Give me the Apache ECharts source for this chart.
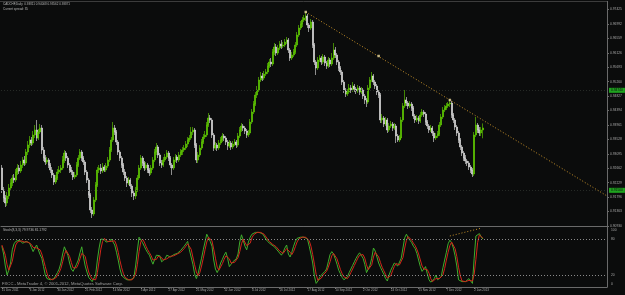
<!DOCTYPE html>
<html>
<head>
<meta charset="utf-8">
<script src="https://cdn.jsdelivr.net/npm/echarts@6/dist/echarts.min.js"></script>
<style>
html,body{margin:0;padding:0;background:#0b0c0c;}
#chart{width:625px;height:295px;}
</style>
</head>
<body>
<div id="chart"></div>
<script>
// CADCHF daily
const firstOpen = 0.9267;
const closes = [
  0.9201,0.9177,0.9162,0.9183,0.9207,0.9222,0.9237,0.9231,0.9255,0.9267,
  0.9258,0.9276,0.9291,0.9282,0.9315,0.9336,0.9351,0.9342,0.9366,0.9381,
  0.9357,0.9375,0.9387,0.9321,0.9297,0.9285,0.9291,0.9276,0.9261,0.9246,
  0.9225,0.9237,0.9255,0.9261,0.9267,0.9291,0.9312,0.9297,0.9276,0.9261,
  0.9255,0.9240,0.9246,0.9276,0.9297,0.9315,0.9297,0.9285,0.9255,0.9231,
  0.9186,0.9141,0.9129,0.9171,0.9216,0.9261,0.9267,0.9258,0.9270,0.9261,
  0.9273,0.9291,0.9321,0.9351,0.9387,0.9375,0.9345,0.9315,0.9297,0.9276,
  0.9255,0.9237,0.9222,0.9231,0.9213,0.9192,0.9183,0.9201,0.9237,0.9267,
  0.9297,0.9282,0.9267,0.9276,0.9261,0.9252,0.9267,0.9291,0.9315,0.9330,
  0.9306,0.9282,0.9276,0.9291,0.9300,0.9312,0.9297,0.9276,0.9267,0.9291,
  0.9300,0.9291,0.9306,0.9315,0.9321,0.9327,0.9339,0.9351,0.9357,0.9375,
  0.9381,0.9336,0.9291,0.9306,0.9327,0.9345,0.9360,0.9366,0.9396,0.9417,
  0.9411,0.9366,0.9327,0.9336,0.9327,0.9342,0.9351,0.9363,0.9357,0.9345,
  0.9333,0.9342,0.9330,0.9339,0.9345,0.9336,0.9363,0.9381,0.9393,0.9387,
  0.9378,0.9366,0.9372,0.9405,0.9435,0.9459,0.9486,0.9501,0.9531,0.9543,
  0.9537,0.9549,0.9555,0.9573,0.9585,0.9579,0.9615,0.9630,0.9612,0.9627,
  0.9639,0.9633,0.9636,0.9645,0.9651,0.9621,0.9597,0.9606,0.9615,0.9636,
  0.9666,0.9687,0.9699,0.9711,0.9717,0.9723,0.9696,0.9687,0.9705,0.9636,
  0.9585,0.9567,0.9591,0.9597,0.9585,0.9600,0.9582,0.9573,0.9591,0.9579,
  0.9597,0.9621,0.9606,0.9585,0.9567,0.9555,0.9525,0.9501,0.9489,0.9495,
  0.9507,0.9501,0.9513,0.9504,0.9498,0.9507,0.9495,0.9501,0.9483,0.9471,
  0.9465,0.9507,0.9531,0.9543,0.9525,0.9513,0.9495,0.9486,0.9411,0.9417,
  0.9399,0.9411,0.9381,0.9393,0.9399,0.9387,0.9393,0.9363,0.9351,0.9357,
  0.9411,0.9453,0.9471,0.9462,0.9453,0.9459,0.9447,0.9423,0.9411,0.9417,
  0.9408,0.9426,0.9435,0.9429,0.9405,0.9393,0.9381,0.9387,0.9372,0.9357,
  0.9363,0.9369,0.9396,0.9420,0.9441,0.9447,0.9453,0.9459,0.9462,0.9426,
  0.9411,0.9390,0.9372,0.9351,0.9330,0.9312,0.9297,0.9288,0.9282,0.9270,
  0.9261,0.9249,0.9366,0.9396,0.9381,0.9372,0.93811,0.93871
];
const highs = [
  0.9276,0.9210,0.9186,0.9195,0.9219,0.9234,0.9246,0.9249,0.9264,0.9279,
  0.9276,0.9288,0.9300,0.9303,0.9324,0.9348,0.9363,0.9360,0.9378,0.9396,
  0.9411,0.9384,0.9399,0.9396,0.9330,0.9306,0.9300,0.9297,0.9282,0.9270,
  0.9252,0.9246,0.9264,0.9273,0.9276,0.9303,0.9321,0.9318,0.9303,0.9282,
  0.9270,0.9261,0.9255,0.9285,0.9306,0.9324,0.9321,0.9303,0.9291,0.9261,
  0.9237,0.9192,0.9150,0.9180,0.9225,0.9270,0.9276,0.9279,0.9282,0.9276,
  0.9282,0.9300,0.9330,0.9360,0.9405,0.9396,0.9381,0.9351,0.9321,0.9303,
  0.9282,0.9264,0.9243,0.9240,0.9237,0.9219,0.9201,0.9210,0.9246,0.9276,
  0.9306,0.9303,0.9288,0.9285,0.9282,0.9267,0.9276,0.9300,0.9324,0.9342,
  0.9336,0.9312,0.9291,0.9300,0.9309,0.9321,0.9318,0.9303,0.9282,0.9300,
  0.9309,0.9306,0.9315,0.9324,0.9330,0.9336,0.9348,0.9360,0.9366,0.9390,
  0.9390,0.9387,0.9342,0.9315,0.9336,0.9354,0.9369,0.9378,0.9405,0.9432,
  0.9426,0.9417,0.9372,0.9345,0.9342,0.9351,0.9360,0.9372,0.9369,0.9363,
  0.9351,0.9351,0.9348,0.9348,0.9354,0.9351,0.9372,0.9390,0.9402,0.9399,
  0.9393,0.9384,0.9381,0.9414,0.9444,0.9468,0.9495,0.9513,0.9540,0.9555,
  0.9552,0.9558,0.9564,0.9582,0.9594,0.9597,0.9624,0.9642,0.9639,0.9636,
  0.9648,0.9651,0.9645,0.9654,0.9660,0.9657,0.9627,0.9615,0.9624,0.9645,
  0.9675,0.9696,0.9708,0.9720,0.9726,0.9735,0.9729,0.9702,0.9714,0.9711,
  0.9642,0.9591,0.9600,0.9606,0.9603,0.9609,0.9606,0.9588,0.9600,0.9597,
  0.9612,0.9642,0.9630,0.9612,0.9591,0.9573,0.9561,0.9531,0.9507,0.9504,
  0.9519,0.9516,0.9525,0.9519,0.9510,0.9516,0.9513,0.9510,0.9507,0.9489,
  0.9477,0.9516,0.9540,0.9555,0.9549,0.9531,0.9519,0.9501,0.9492,0.9429,
  0.9423,0.9420,0.9417,0.9402,0.9408,0.9405,0.9402,0.9399,0.9369,0.9366,
  0.9420,0.9462,0.9501,0.9480,0.9468,0.9468,0.9465,0.9453,0.9429,0.9426,
  0.9423,0.9435,0.9444,0.9441,0.9435,0.9411,0.9399,0.9396,0.9393,0.9378,
  0.9372,0.9378,0.9405,0.9429,0.9450,0.9456,0.9462,0.9465,0.9471,0.9468,
  0.9432,0.9417,0.9396,0.9378,0.9357,0.9336,0.9318,0.9306,0.9294,0.9288,
  0.9276,0.9267,0.9375,0.9420,0.9402,0.9390,0.9390,0.94008
];
const lows = [
  0.9192,0.9165,0.9150,0.9153,0.9174,0.9198,0.9213,0.9222,0.9225,0.9246,
  0.9249,0.9252,0.9267,0.9273,0.9276,0.9306,0.9327,0.9333,0.9336,0.9357,
  0.9348,0.9351,0.9369,0.9309,0.9288,0.9276,0.9279,0.9267,0.9252,0.9237,
  0.9216,0.9219,0.9231,0.9249,0.9252,0.9261,0.9282,0.9288,0.9267,0.9252,
  0.9246,0.9231,0.9234,0.9240,0.9270,0.9291,0.9288,0.9276,0.9246,0.9222,
  0.9177,0.9132,0.9117,0.9123,0.9165,0.9210,0.9252,0.9249,0.9252,0.9255,
  0.9255,0.9267,0.9285,0.9315,0.9345,0.9366,0.9336,0.9306,0.9288,0.9267,
  0.9246,0.9228,0.9210,0.9216,0.9204,0.9180,0.9171,0.9174,0.9195,0.9231,
  0.9261,0.9273,0.9258,0.9261,0.9252,0.9243,0.9246,0.9261,0.9285,0.9306,
  0.9297,0.9273,0.9267,0.9270,0.9285,0.9294,0.9288,0.9267,0.9246,0.9261,
  0.9285,0.9282,0.9285,0.9300,0.9306,0.9315,0.9321,0.9330,0.9345,0.9351,
  0.9366,0.9327,0.9282,0.9282,0.9300,0.9321,0.9339,0.9354,0.9360,0.9390,
  0.9402,0.9357,0.9318,0.9321,0.9318,0.9321,0.9336,0.9345,0.9348,0.9336,
  0.9321,0.9327,0.9321,0.9324,0.9333,0.9327,0.9330,0.9357,0.9375,0.9378,
  0.9369,0.9357,0.9360,0.9366,0.9399,0.9429,0.9453,0.9477,0.9495,0.9525,
  0.9528,0.9531,0.9543,0.9549,0.9567,0.9570,0.9573,0.9606,0.9603,0.9606,
  0.9621,0.9624,0.9627,0.9630,0.9639,0.9612,0.9588,0.9591,0.9600,0.9609,
  0.9630,0.9660,0.9681,0.9690,0.9705,0.9708,0.9687,0.9675,0.9681,0.9627,
  0.9576,0.9546,0.9561,0.9585,0.9576,0.9579,0.9573,0.9564,0.9567,0.9570,
  0.9573,0.9591,0.9597,0.9576,0.9558,0.9546,0.9516,0.9492,0.9480,0.9483,
  0.9489,0.9492,0.9495,0.9495,0.9489,0.9492,0.9486,0.9489,0.9474,0.9459,
  0.9450,0.9459,0.9501,0.9525,0.9516,0.9504,0.9486,0.9477,0.9402,0.9402,
  0.9390,0.9393,0.9372,0.9375,0.9387,0.9378,0.9381,0.9342,0.9345,0.9345,
  0.9351,0.9405,0.9447,0.9453,0.9444,0.9447,0.9438,0.9414,0.9402,0.9405,
  0.9399,0.9402,0.9420,0.9420,0.9396,0.9384,0.9372,0.9375,0.9363,0.9345,
  0.9351,0.9357,0.9363,0.9390,0.9414,0.9435,0.9441,0.9447,0.9450,0.9417,
  0.9402,0.9381,0.9363,0.9342,0.9321,0.9303,0.9288,0.9279,0.9273,0.9261,
  0.9252,0.9240,0.9243,0.9360,0.9372,0.9363,0.9363,0.93562
];

// Stochastic(8,3,3): main and signal line
const stochMain = [
  68,55,35,20,28,40,62,72,76,78, 78,76,73,75,76,74,73,66,59,65,
  70,62,54,48,34,20,14,12,12,13, 14,17,24,30,40,55,67,60,53,40,
  30,26,32,38,45,57,67,50,35,25, 16,13,9,7,20,45,65,80,83,79,
  75,73,76,80,81,70,58,45,30,20, 16,13,12,11,12,12,15,35,60,83,
  82,74,68,62,57,53,45,38,46,53, 54,52,42,40,47,53,51,50,53,54,
  55,56,58,61,64,68,72,76,62,50, 38,22,14,22,35,48,62,75,88,86,
  76,68,45,30,24,30,40,46,53,58, 48,34,38,42,44,47,55,75,87,78,
  68,62,75,83,88,90,91,92,91,90, 89,85,80,76,73,71,69,67,64,60,
  57,53,58,65,70,55,50,58,68,76, 81,82,83,84,83,82,80,68,55,40,
  18,6,10,16,20,23,26,30,42,54, 59,55,47,38,28,22,16,12,14,17,
  24,30,36,42,48,53,57,58,48,38, 24,26,36,48,65,60,50,40,33,27,
  21,14,10,20,28,34,40,42,35,33, 48,65,82,88,82,78,74,68,64,56,
  45,34,26,30,34,22,12,8,7,14, 20,12,10,17,32,45,58,72,78,74,
  65,52,35,12,9,9,9,9,11,14, 10,6,48,85,88,89,84,79.9736
];
const stochSignal = [
  70,62,53,37,28,29,43,58,70,75, 77,77,76,75,75,75,74,71,66,63,
  65,66,62,55,45,34,23,15,13,12, 13,15,18,24,31,42,54,61,60,51,
  41,32,29,32,38,47,56,58,51,37, 25,18,13,10,12,24,43,63,76,81,
  79,76,75,76,79,77,70,58,44,32, 22,16,14,12,12,12,13,21,37,59,
  75,80,75,68,62,57,52,45,43,46, 51,53,49,45,43,47,50,51,51,52,
  54,55,56,58,61,64,68,72,70,63, 50,37,25,19,24,35,48,62,75,83,
  83,77,63,48,33,28,31,39,46,52, 53,47,40,38,41,44,49,59,72,80,
  78,69,68,73,82,87,90,91,91,91, 90,88,85,80,76,73,71,69,67,64,
  60,57,56,59,64,63,58,54,59,67, 75,80,82,83,83,83,82,77,68,54,
  38,21,11,11,15,20,23,26,33,42, 52,56,54,47,38,29,22,17,14,14,
  18,24,30,36,42,48,53,56,54,48, 37,29,29,37,50,58,58,50,41,33,
  27,21,15,15,19,27,34,39,39,37, 39,49,65,78,84,83,78,73,69,63,
  55,45,35,30,30,29,23,14,9,10, 14,15,14,13,20,31,45,58,69,75,
  72,64,51,33,19,10,9,9,10,11, 12,10,21,46,74,87,87,81.1792
];

const dateLabels = ['15 Dec 2011','6 Jan 2012','30 Jan 2012','21 Feb 2012','14 Mar 2012','5 Apr 2012',
  '27 Apr 2012','21 May 2012','12 Jun 2012','4 Jul 2012','26 Jul 2012','17 Aug 2012','10 Sep 2012',
  '2 Oct 2012','24 Oct 2012','15 Nov 2012','7 Dec 2012','2 Jan 2013'];
const dateStep = 16;          // bars between date labels
const slotCount = 349;        // bars + empty chart shift on the right

// user drawn objects
const trendIdx = [175, 258];
const trendVal = [0.9735, 0.9471];
const levelLines = [0.9474, 0.9150];
const bidPrice = 0.93871;
const stochTrendIdx = [258, 276];
const stochTrendVal = [85, 98];
const stochLevels = [80, 20];

const cats = Array.from({ length: slotCount }, (_, i) => String(i));
const candles = closes.map((c, i) => [i === 0 ? firstOpen : closes[i - 1], c, lows[i], highs[i]]);

const slope = (trendVal[1] - trendVal[0]) / (trendIdx[1] - trendIdx[0]);
const lastSlot = slotCount - 1;
const trendData = [[trendIdx[0], trendVal[0]], [lastSlot, trendVal[0] + slope * (lastSlot - trendIdx[0])]];
const trendHandles = [
  [trendIdx[0], trendVal[0]],
  [(trendIdx[0] + trendIdx[1]) / 2, (trendVal[0] + trendVal[1]) / 2],
  [trendIdx[1], trendVal[1]]
];

const FONT = 'Liberation Sans';
const GRAY = '#a8a8a8';
const FRAME = '#6a6a6a';
const GREEN = '#66d800';
const WHITE = '#e8e8e8';
const TREND = '#c8922a';

const isDateTick = (index) => index % dateStep === 0 && index / dateStep < dateLabels.length;

const chart = echarts.init(document.getElementById('chart'), null, { renderer: 'canvas' });
chart.setOption({
  backgroundColor: '#0b0c0c',
  animation: false,
  grid: [
    { left: 1, top: 5, width: 606, height: 221, outerBoundsMode: 'none' },
    { left: 1, top: 227, width: 606, height: 60, outerBoundsMode: 'none' }
  ],
  xAxis: [
    {
      type: 'category', gridIndex: 0, data: cats, boundaryGap: true,
      axisLine: { show: true, lineStyle: { color: FRAME, width: 1 } },
      axisTick: { show: false }, axisLabel: { show: false }, splitLine: { show: false }
    },
    {
      type: 'category', gridIndex: 1, data: cats, boundaryGap: true,
      axisLine: { show: true, lineStyle: { color: FRAME, width: 1 } },
      axisTick: { show: true, alignWithLabel: true, interval: isDateTick, length: 2, lineStyle: { color: FRAME } },
      axisLabel: {
        show: true, interval: isDateTick, align: 'left', margin: 2,
        fontSize: 3, fontFamily: FONT, color: GRAY,
        formatter: (v) => dateLabels[Number(v) / dateStep]
      },
      splitLine: { show: false }
    }
  ],
  yAxis: [
    {
      type: 'value', gridIndex: 0, position: 'right', scale: true,
      min: 0.9093, max: 0.9756, interval: 0.00433,
      axisLine: { show: true, lineStyle: { color: FRAME } },
      axisTick: { show: true, length: 2, lineStyle: { color: FRAME } },
      axisLabel: {
        show: true, margin: 3, fontSize: 3.3, fontFamily: FONT, color: GRAY,
        showMaxLabel: false, formatter: (v) => v.toFixed(5)
      },
      splitLine: { show: false }
    },
    {
      type: 'value', gridIndex: 1, position: 'right',
      min: 0, max: 100, interval: 20,
      axisLine: { show: true, lineStyle: { color: FRAME } },
      axisTick: { show: false },
      axisLabel: {
        show: true, margin: 4, fontSize: 3.3, fontFamily: FONT, color: GRAY,
        formatter: (v) => v === 100 ? '{t|100}' : v === 0 ? '{b|0}' : (v === 20 || v === 80) ? String(v) : '',
        rich: {
          t: { fontSize: 3.3, fontFamily: FONT, color: GRAY, padding: [6, 0, 0, 0] },
          b: { fontSize: 3.3, fontFamily: FONT, color: GRAY, padding: [0, 0, 6, 0] }
        }
      },
      splitLine: { show: false }
    }
  ],
  series: [
    {
      type: 'candlestick', xAxisIndex: 0, yAxisIndex: 0, data: candles,
      barWidth: 1.5,
      itemStyle: { color: GREEN, color0: WHITE, borderColor: GREEN, borderColor0: WHITE, borderWidth: 0.6 },
      markLine: {
        silent: true, symbol: 'none', animation: false,
        data: [
          ...levelLines.map((v) => ({
            yAxis: v,
            lineStyle: { color: '#262a26', width: 1, type: [1, 2] },
            label: {
              show: true, position: 'end', distance: 2, formatter: v.toFixed(5),
              fontSize: 3.3, fontFamily: FONT, color: '#0b0c0c',
              backgroundColor: '#1fa31f', padding: [1, 2]
            }
          })),
          {
            yAxis: bidPrice,
            lineStyle: { opacity: 0 },
            label: {
              show: true, position: 'end', distance: 2, formatter: bidPrice.toFixed(5),
              fontSize: 3.3, fontFamily: FONT, color: '#0b0c0c',
              backgroundColor: '#c4c4c4', padding: [1, 2]
            }
          }
        ]
      }
    },
    {
      type: 'line', xAxisIndex: 0, yAxisIndex: 0, data: trendData, symbol: 'none', z: 5,
      lineStyle: { color: TREND, width: 1, type: [1, 2] }
    },
    {
      type: 'scatter', xAxisIndex: 0, yAxisIndex: 0, data: trendHandles, z: 6,
      symbol: 'rect', symbolSize: 2.5, itemStyle: { color: '#eedca0' }
    },
    {
      type: 'line', xAxisIndex: 1, yAxisIndex: 1, data: stochMain, symbol: 'none',
      lineStyle: { color: '#3fae2c', width: 1 },
      markLine: {
        silent: true, symbol: 'none', animation: false, label: { show: false },
        lineStyle: { color: '#8a8a8a', width: 1, type: [1, 2] },
        data: stochLevels.map((v) => ({ yAxis: v }))
      }
    },
    {
      type: 'line', xAxisIndex: 1, yAxisIndex: 1, data: stochSignal, symbol: 'none',
      lineStyle: { color: '#d2261a', width: 1 }
    },
    {
      type: 'line', xAxisIndex: 1, yAxisIndex: 1, symbol: 'none', z: 5,
      data: stochTrendIdx.map((x, i) => [x, stochTrendVal[i]]),
      lineStyle: { color: TREND, width: 1, type: [1, 2] }
    }
  ],
  graphic: [
    { type: 'line', shape: { x1: 0, y1: 1.5, x2: 607, y2: 1.5 }, style: { stroke: '#3c3c3c', lineWidth: 1 } },
    { type: 'line', shape: { x1: 607.5, y1: 1, x2: 607.5, y2: 5 }, style: { stroke: FRAME, lineWidth: 1 } },
    { type: 'text', left: 3, top: 2.5, style: { text: 'CADCHF,Daily  0.93811 0.94008 0.93562 0.93871', fill: '#b8b8b8', font: '3px "Liberation Sans"' } },
    { type: 'text', left: 3, top: 7.5, style: { text: 'Current spread: 35', fill: '#b8b8b8', font: '3px "Liberation Sans"' } },
    { type: 'text', left: 3, top: 228.5, style: { text: 'Stoch(8,3,3) 79.9736 81.1792', fill: '#b8b8b8', font: '3.3px "Liberation Sans"' } },
    { type: 'text', left: 2, top: 281.5, style: { text: 'FXCC - MetaTrader 4, \u00a9 2001-2012, MetaQuotes Software Corp.', fill: '#a0a0a0', font: '4.2px "Liberation Sans"' } }
  ]
});
</script>
</body>
</html>
